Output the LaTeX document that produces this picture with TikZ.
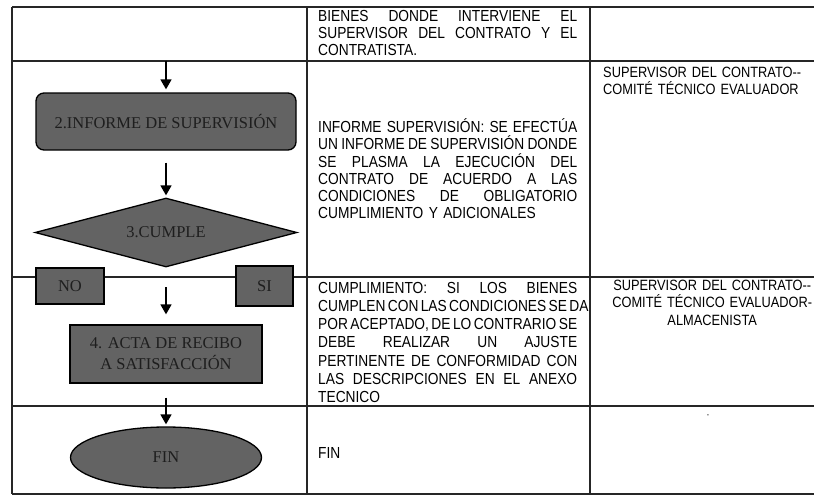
\documentclass[tikz,border=0pt]{standalone}
\usepackage{fontspec}
\setmainfont{Liberation Sans}[FakeStretch=0.86]
\newfontfamily\tnr{Liberation Serif}
\usetikzlibrary{shapes.geometric,arrows.meta}
\definecolor{gris}{HTML}{636363}
\definecolor{tinta}{HTML}{1E1E1E}
\newcommand{\linea}[1]{\leavevmode\hbox to 259pt{\spaceskip=.25em plus 1fil minus .1em\relax#1}}
\tikzset{
  paso/.style={draw=black,line width=1.3pt,fill=gris,text=tinta,align=center,inner sep=0pt,
    font=\tnr\fontsize{16.5}{21}\selectfont},
  flecha/.style={-{Triangle[width=11pt,length=10pt]},line width=1.6pt},
  tabla/.style={line width=1.2pt,draw=black!85},
  celda/.style={anchor=north west,inner sep=0pt,text width=259pt,align=left,
    execute at begin node={\setlength{\parindent}{0pt}\hyphenpenalty=10000\rule{0pt}{15pt}}}
}
\begin{document}
\begin{tikzpicture}[x=1pt,y=-1pt]
		\useasboundingbox (0,0) rectangle (814,495);
		
		\draw[tabla] (12,7) -- (814,7);
		\draw[tabla] (12,61) -- (814,61);
		\draw[tabla] (12,277) -- (814,277);
		\draw[tabla] (12,406) -- (814,406);
		\draw[tabla] (12,494) -- (814,494);
		\draw[tabla] (12,7) -- (12,494);
		\draw[tabla] (307,7) -- (307,494);
		\draw[tabla] (590,7) -- (590,494);
		
		\node[paso,rounded corners=8pt,minimum width=260pt,minimum height=57pt] (inf) at (166,121.5) {2.INFORME DE SUPERVISIÓN};
		\node[paso,diamond,shape aspect=3.8,minimum width=262pt,minimum height=69pt] (cumple) at (166,232.5) {3.CUMPLE};
		\node[paso,minimum width=68pt,minimum height=36pt] (no) at (70,286) {NO};
		\node[paso,minimum width=57pt,minimum height=40pt] (si) at (264.5,286) {SI};
		\node[paso,minimum width=192pt,minimum height=58pt] (acta) at (166,354) {4. ACTA DE RECIBO\\A SATISFACCIÓN};
		\node[paso,ellipse,minimum width=191pt,minimum height=61pt] (fin) at (166,457.5) {FIN};
		
		\coordinate (e1) at (166,61);
		\coordinate (e2) at (166,287);
		\draw[flecha,shorten >=3pt] (e1) -- (inf);
		\draw[flecha,shorten <=12pt,shorten >=2pt] (inf) -- (cumple);
		\draw[flecha,shorten >=10pt] (e2) -- (acta);
		\draw[flecha,shorten <=14pt,shorten >=2pt] (acta) -- (fin);
		
		\node[celda,font=\fontsize{16}{17}\selectfont] (des1) at (318,6) {%
			\linea{BIENES DONDE INTERVIENE EL}\\
			\linea{SUPERVISOR DEL CONTRATO Y EL}\\
			CONTRATISTA.};
		\node[celda,font=\fontsize{16}{17.2}\selectfont] (des2) at (318,117.5) {%
			\linea{INFORME SUPERVISIÓN: SE EFECTÚA}\\
			\linea{UN INFORME DE SUPERVISIÓN DONDE}\\
			\linea{SE PLASMA LA EJECUCIÓN DEL}\\
			\linea{CONTRATO DE ACUERDO A LAS}\\
			\linea{CONDICIONES DE OBLIGATORIO}\\
			CUMPLIMIENTO Y ADICIONALES};
		\node[celda,font=\fontsize{16}{18.2}\selectfont] (des3) at (318,278) {%
			\linea{CUMPLIMIENTO: SI LOS BIENES}\\
			\linea{CUMPLEN CON LAS CONDICIONES SE DA}\\
			\linea{POR ACEPTADO, DE LO CONTRARIO SE}\\
			\linea{DEBE REALIZAR UN AJUSTE}\\
			\linea{PERTINENTE DE CONFORMIDAD CON}\\
			\linea{LAS DESCRIPCIONES EN EL ANEXO}\\
			TECNICO};
		\node[celda,font=\fontsize{16}{17}\selectfont] (des4) at (318,443) {FIN};
		
		\node[celda,text width=230pt,font=\fontsize{14.9}{17}\selectfont] (res2) at (603,62) {SUPERVISOR DEL CONTRATO-{}-\\COMITÉ TÉCNICO EVALUADOR};
		\node[celda,text width=230pt,align=center,font=\fontsize{14.9}{17.5}\selectfont] (res3) at (597,275) {SUPERVISOR DEL CONTRATO-{}-\\COMITÉ TÉCNICO EVALUADOR-\\ALMACENISTA};
		\node[inner sep=0pt,font=\fontsize{8}{8}\selectfont] (res4) at (708,416) {-};
\end{tikzpicture}
\end{document}
